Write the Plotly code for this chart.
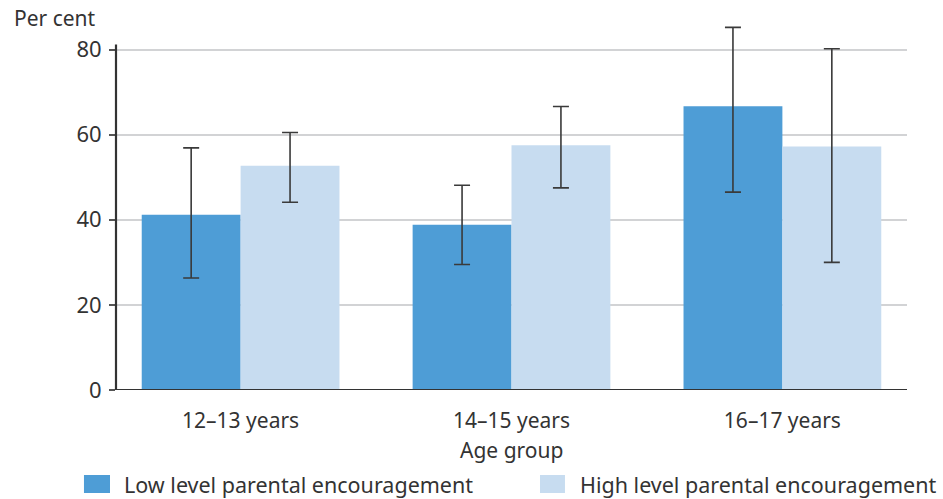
import plotly.graph_objects as go

categories = ["12–13 years", "14–15 years", "16–17 years"]
low_vals = [41.2, 38.8, 66.7]
low_err_lo = [26.3, 29.5, 46.5]
low_err_hi = [56.9, 48.1, 85.2]
high_vals = [52.7, 57.5, 57.2]
high_err_lo = [44.1, 47.5, 30.0]
high_err_hi = [60.5, 66.6, 80.2]
y_ticks = [0, 20, 40, 60, 80]
series_names = ["Low level parental encouragement", "High level parental encouragement"]
series_colors = ["#4E9DD6", "#C7DCF0"]

FONT = "Noto Sans"
TXT = "#333333"

def err(vals, lo, hi):
    return dict(type="data", symmetric=False,
                array=[h - v for h, v in zip(hi, vals)],
                arrayminus=[v - l for v, l in zip(vals, lo)],
                color="#3a3a3a", thickness=1.6, width=8)

fig = go.Figure()
fig.add_trace(go.Bar(name=series_names[0], x=categories, y=low_vals,
                     marker=dict(color=series_colors[0], line=dict(width=0)),
                     error_y=err(low_vals, low_err_lo, low_err_hi)))
fig.add_trace(go.Bar(name=series_names[1], x=categories, y=high_vals,
                     marker=dict(color=series_colors[1], line=dict(width=0)),
                     error_y=err(high_vals, high_err_lo, high_err_hi)))

fig.update_layout(
    width=943, height=499,
    margin=dict(l=116, r=36, t=24, b=109),
    paper_bgcolor="white", plot_bgcolor="white",
    barmode="group", bargap=0.27, bargroupgap=0,
    font=dict(family=FONT, size=18, color=TXT),
    xaxis=dict(range=[-0.46, 2.46], showgrid=False, showline=False, ticks="",
               automargin=False, ticklabelstandoff=16,
               tickfont=dict(size=21, color=TXT)),
    yaxis=dict(range=[0, 86], tickvals=y_ticks, showgrid=True, gridcolor="#d2d3d5",
               gridwidth=1.5, showline=False, zeroline=False, ticks="outside",
               ticklen=6, tickcolor="#555555", tickwidth=1.5, automargin=False,
               ticklabelstandoff=3,
               tickfont=dict(size=22, color=TXT)),
    showlegend=False,
)

# axis lines
fig.add_shape(type="line", xref="x domain", yref="y", x0=0, x1=0, y0=0, y1=81.2,
              line=dict(color="#333333", width=2.2), layer="above")
fig.add_shape(type="line", xref="x domain", yref="y", x0=0, x1=1, y0=0, y1=0,
              line=dict(color="#333333", width=2.2), layer="above")

fig.add_annotation(text="Per cent", xref="paper", yref="paper", x=-0.1315, y=1.0164,
                   xanchor="left", yanchor="middle", showarrow=False,
                   font=dict(size=21, color=TXT))
fig.add_annotation(text="Age group", xref="paper", yref="paper", x=0.5, y=-0.164,
                   xanchor="center", yanchor="middle", showarrow=False,
                   font=dict(size=21, color=TXT))

# legend
leg_box_x = [(-0.0405, -0.0076), (0.536, 0.5676)]
leg_text_x = [0.0076, 0.584]
for name, col, (bx0, bx1), tx in zip(series_names, series_colors, leg_box_x, leg_text_x):
    fig.add_shape(type="rect", xref="paper", yref="paper", x0=bx0, x1=bx1,
                  y0=-0.2814, y1=-0.2322, fillcolor=col, line=dict(width=0))
    fig.add_annotation(text=name, xref="paper", yref="paper", x=tx, y=-0.257,
                       xanchor="left", yanchor="middle", showarrow=False,
                       font=dict(size=21.5, color=TXT))

fig.write_html("out.html", config={"displayModeBar": False},
               post_script="document.body.style.margin='0';document.body.style.overflow='hidden';")
